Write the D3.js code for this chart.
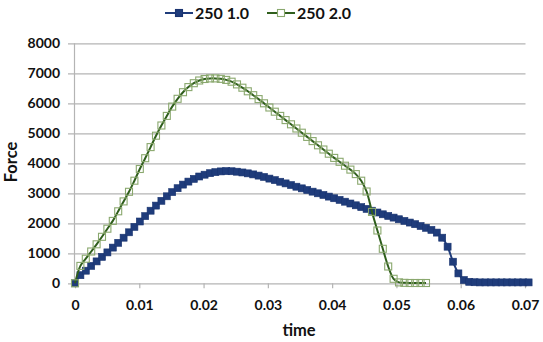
<!DOCTYPE html>
<html>
<head>
<meta charset="utf-8">
<script src="https://cdn.jsdelivr.net/npm/d3@7"></script>
<style>
  html, body { margin: 0; padding: 0; background: #fff; }
  svg { display: block; }
  text { font-family: Lato, "Open Sans", sans-serif; font-weight: 700; fill: #111; }
</style>
</head>
<body>
<svg id="chart" width="543" height="342"></svg>
<script>
// Sample times (s)
const time = [
  0, 0.00084, 0.00168, 0.00252, 0.00336, 0.0042, 0.00504, 0.00588, 0.00672, 0.00756,
  0.0084, 0.00924, 0.01008, 0.01092, 0.01176, 0.0126, 0.01344, 0.01428, 0.01512, 0.01596,
  0.0168, 0.01764, 0.01848, 0.01932, 0.02016, 0.021, 0.02184, 0.02268, 0.02352, 0.02436,
  0.0252, 0.02604, 0.02688, 0.02772, 0.02856, 0.0294, 0.03024, 0.03108, 0.03192, 0.03276,
  0.0336, 0.03444, 0.03528, 0.03612, 0.03696, 0.0378, 0.03864, 0.03948, 0.04032, 0.04116,
  0.042, 0.04284, 0.04368, 0.04452, 0.04536, 0.0462, 0.04704, 0.04788, 0.04872, 0.04956,
  0.0504, 0.05124, 0.05208, 0.05292, 0.05376, 0.0546, 0.05544, 0.05628, 0.05712, 0.05796,
  0.0588, 0.05964, 0.06048, 0.06132, 0.06216, 0.063, 0.06384, 0.06468, 0.06552, 0.06636,
  0.0672, 0.06804, 0.06888, 0.06972, 0.07056
];

// Force for "250 1.0"
const force10 = [
  0, 270, 420, 580, 730, 880, 1030, 1190, 1350, 1520,
  1700, 1880, 2060, 2240, 2420, 2590, 2750, 2900, 3040, 3170,
  3290, 3390, 3480, 3560, 3620, 3670, 3705, 3730, 3740, 3735,
  3720, 3695, 3665, 3630, 3590, 3545, 3490, 3440, 3385, 3330,
  3275, 3220, 3165, 3110, 3055, 3000, 2945, 2890, 2835, 2780,
  2720, 2660, 2600, 2540, 2480, 2420, 2360, 2300, 2245, 2190,
  2135, 2080, 2025, 1970, 1910, 1850, 1780, 1690, 1520, 1220,
  720, 330, 110, 50, 35, 30, 30, 30, 30, 30,
  30, 30, 30, 30, 30
];

// Force for "250 2.0"
const force20 = [
  0, 580, 820, 1060, 1300, 1550, 1820, 2080, 2400, 2730,
  3050, 3420, 3810, 4170, 4540, 4920, 5260, 5580, 5890, 6150,
  6370, 6540, 6670, 6760, 6810, 6830, 6830, 6815, 6780, 6720,
  6630, 6520, 6400, 6270, 6140, 6000, 5860, 5720, 5580, 5440,
  5300, 5160, 5020, 4880, 4740, 4600, 4460, 4320, 4180, 4050,
  3920, 3790, 3640, 3420, 3060, 2380, 1760, 1150, 560, 150,
  30, 15, 10, 10, 10, 10
];

const seriesNames = ["250 1.0", "250 2.0"];
const xTicks = [0, 0.01, 0.02, 0.03, 0.04, 0.05, 0.06, 0.07];
const xTickLabels = ["0", "0.01", "0.02", "0.03", "0.04", "0.05", "0.06", "0.07"];
const yTicks = [0, 1000, 2000, 3000, 4000, 5000, 6000, 7000, 8000];

const svg = d3.select("#chart");
const plotLeft = 74.5, plotRight = 525.5, plotTop = 43.3, plotBottom = 283.3;

const x = d3.scaleLinear().domain([0, 0.07]).range([75, 525]);
const y = d3.scaleLinear().domain([0, 8000]).range([plotBottom, plotTop]);

const gridColor = "#b4b4b4";

// Horizontal gridlines + y labels
const yAxis = svg.append("g")
  .attr("transform", "translate(68,0)")
  .call(d3.axisLeft(y).tickValues(yTicks).tickFormat(d3.format("d"))
    .tickSizeInner(-(plotRight - 68)).tickSizeOuter(0).tickPadding(8));
yAxis.select(".domain").remove();
yAxis.selectAll(".tick line").attr("stroke", gridColor).attr("stroke-width", 1.2);
yAxis.selectAll(".tick text")
  .style("font-size", "14px").style("font-family", "Lato, sans-serif")
  .style("font-weight", 700).attr("fill", "#111");

// Vertical axis line
svg.append("line")
  .attr("x1", plotLeft).attr("x2", plotLeft).attr("y1", plotTop).attr("y2", plotBottom)
  .attr("stroke", gridColor).attr("stroke-width", 1.2);

// X axis ticks and labels
const xAxis = svg.append("g")
  .attr("transform", `translate(0,${plotBottom})`)
  .call(d3.axisBottom(x).tickValues(xTicks).tickFormat((d, i) => xTickLabels[i])
    .tickSizeInner(5).tickSizeOuter(0).tickPadding(12));
xAxis.select(".domain").remove();
xAxis.selectAll(".tick line").attr("stroke", gridColor).attr("stroke-width", 1.2);
xAxis.selectAll(".tick text")
  .style("font-size", "14px").style("font-family", "Lato, sans-serif")
  .style("font-weight", 700).attr("fill", "#111");

// Axis titles
svg.append("text")
  .attr("x", 299).attr("y", 336)
  .attr("text-anchor", "middle")
  .style("font-size", "16.5px")
  .text("time");

svg.append("text")
  .attr("transform", "translate(17,162) rotate(-90)")
  .attr("text-anchor", "middle")
  .style("font-size", "16.5px")
  .text("Force");

const blueColor = "#1f3c7b";
const greenLine = "#2f5e1c";
const greenMarker = "#8aa86e";
const ms = 7;

const line = d3.line()
  .x(d => x(d[0]))
  .y(d => y(d[1]))
  .curve(d3.curveCatmullRom.alpha(0.5));

const s1 = time.map((t, i) => [t, force10[i]]);
const s2 = force20.map((f, i) => [time[i], f]);

// Series "250 1.0"
svg.append("path")
  .datum(s1)
  .attr("d", line)
  .attr("fill", "none")
  .attr("stroke", blueColor)
  .attr("stroke-width", 2);

svg.append("g").selectAll("rect")
  .data(s1)
  .join("rect")
  .attr("x", d => x(d[0]) - ms / 2)
  .attr("y", d => y(d[1]) - ms / 2)
  .attr("width", ms).attr("height", ms)
  .attr("fill", blueColor)
  .attr("stroke", "#1a3470").attr("stroke-width", 0.6);

// Series "250 2.0"
svg.append("path")
  .datum(s2)
  .attr("d", line)
  .attr("fill", "none")
  .attr("stroke", greenLine)
  .attr("stroke-width", 2);

svg.append("g").selectAll("rect")
  .data(s2)
  .join("rect")
  .attr("x", d => x(d[0]) - ms / 2)
  .attr("y", d => y(d[1]) - ms / 2)
  .attr("width", ms).attr("height", ms)
  .attr("fill", "none")
  .attr("stroke", greenMarker).attr("stroke-width", 1.1);

// Legend
const legend = svg.append("g");
const legendItems = [
  { name: seriesNames[0], x0: 165, stroke: blueColor, fill: blueColor, mstroke: "#1a3470" },
  { name: seriesNames[1], x0: 267, stroke: greenLine, fill: "#fff", mstroke: greenMarker }
];
legendItems.forEach(it => {
  const g = legend.append("g");
  g.append("line")
    .attr("x1", it.x0).attr("x2", it.x0 + 28)
    .attr("y1", 13).attr("y2", 13)
    .attr("stroke", it.stroke).attr("stroke-width", 2);
  g.append("rect")
    .attr("x", it.x0 + 14 - ms / 2).attr("y", 13 - ms / 2)
    .attr("width", ms).attr("height", ms)
    .attr("fill", it.fill).attr("stroke", it.mstroke).attr("stroke-width", 1.1);
  g.append("text")
    .attr("x", it.x0 + 30).attr("y", 19)
    .style("font-size", "16px")
    .text(it.name);
});
</script>
</body>
</html>
